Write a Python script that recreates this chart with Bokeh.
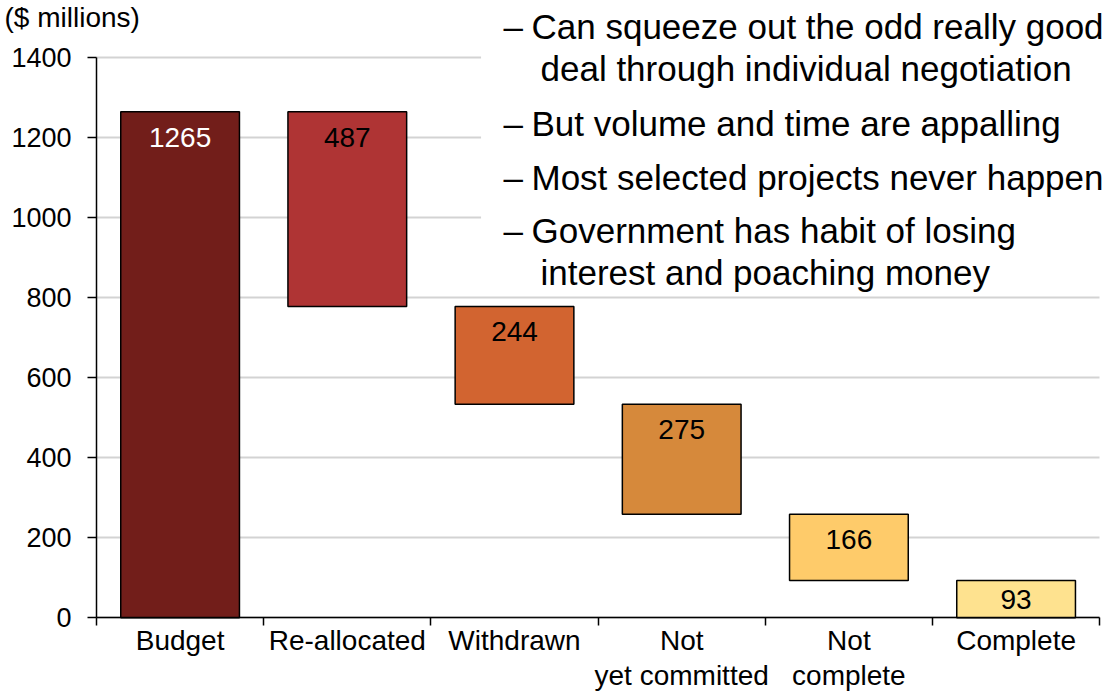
from bokeh.plotting import figure
from bokeh.models import FixedTicker, Label, Range1d, ColumnDataSource
from bokeh.embed import file_html
from bokeh.resources import INLINE
from bokeh.core.properties import value

# ---- data ----
categories = ["Budget", "Re-allocated", "Withdrawn", "Not\nyet committed", "Not\ncomplete", "Complete"]
amounts = [1265, 487, 244, 275, 166, 93]
kinds = ["total", "step", "step", "step", "step", "total"]
colors = ["#721E1A", "#AF3434", "#D26430", "#D6893B", "#FECB6A", "#FEE28F"]
label_colors = ["white", "black", "black", "black", "black", "black"]
y_ticks = [0, 200, 400, 600, 800, 1000, 1200, 1400]
notes = [
    ("Can squeeze out the odd really good", True),
    ("deal through individual negotiation", False),
    ("But volume and time are appalling", True),
    ("Most selected projects never happen", True),
    ("Government has habit of losing", True),
    ("interest and poaching money", False),
]

# waterfall geometry derived from amounts
bottoms, tops = [], []
level = 0
for a, k in zip(amounts, kinds):
    if k == "total":
        bottoms.append(0)
        tops.append(a)
        level = a
    else:
        tops.append(level)
        level = level - a
        bottoms.append(level)

N = len(categories)
YMAX = y_ticks[-1]
xs = [i + 0.5 for i in range(N)]
# value label sits near the top of its bar (or mid-bar for a short bar)
label_y = [max(t - 63, (t + b) / 2) for t, b in zip(tops, bottoms)]
src = ColumnDataSource(dict(x=xs, bottom=bottoms, top=tops, color=colors,
                            label=[str(a) for a in amounts], lcolor=label_colors,
                            ly=label_y))

FONT = "Liberation Sans"
W, H = 1104, 691
# page geometry: axis origin at (96, 617.3) px, 167.2 px per category, 0.4 px per $m
X0, Y0, XS, YS = 96.0, 617.3, 167.2, 0.4

p = figure(width=W, height=H, output_backend="svg", toolbar_location=None, title=None,
           x_range=Range1d(-X0 / XS, (W - X0) / XS),
           y_range=Range1d((Y0 - H) / YS, Y0 / YS),
           min_border=0, min_border_left=0, min_border_right=0,
           min_border_top=0, min_border_bottom=0)
p.outline_line_color = None
p.background_fill_color = "white"
p.border_fill_color = "white"

# grid
p.xgrid.visible = False
p.ygrid.ticker = FixedTicker(ticks=y_ticks)
p.ygrid.grid_line_color = "#D3D3D3"
p.ygrid.grid_line_width = 2
p.ygrid.bounds = (0, YMAX)
p.ygrid.cross_bounds = (0, N)

# white panel behind the notes (hides gridlines there)
p.quad(left=2.3, right=N + 1, bottom=810, top=YMAX + 300,
       fill_color="white", line_color=None)

# bars
p.vbar(x="x", bottom="bottom", top="top", width=0.71, source=src,
       fill_color="color", line_color="black", line_width=1.5)
p.text(x="x", y="ly", text="label", source=src, text_color="lcolor",
       text_align="center", text_baseline="middle",
       text_font=value(FONT), text_font_size="28px")

# y axis
ya = p.yaxis[0]
ya.fixed_location = 0
ya.bounds = (0, YMAX)
ya.ticker = FixedTicker(ticks=y_ticks)
ya.axis_line_color = "black"
ya.axis_line_width = 1.5
ya.major_tick_line_color = "black"
ya.major_tick_line_width = 1.5
ya.major_tick_out = 9
ya.major_tick_in = 0
ya.minor_tick_line_color = None
ya.major_label_text_font = FONT
ya.major_label_text_font_size = "27px"
ya.major_label_text_color = "black"
ya.major_label_standoff = 16

# x axis
xa = p.xaxis[0]
xa.fixed_location = 0
xa.bounds = (0, N)
xa.ticker = FixedTicker(ticks=xs, minor_ticks=list(range(N + 1)))
xa.major_label_overrides = {x: c for x, c in zip(xs, categories)}
xa.axis_line_color = "black"
xa.axis_line_width = 1.5
xa.major_tick_line_color = None
xa.major_tick_out = 0
xa.major_tick_in = 0
xa.minor_tick_line_color = "black"
xa.minor_tick_line_width = 1.5
xa.minor_tick_out = 8
xa.minor_tick_in = 0
xa.major_label_text_font = FONT
xa.major_label_text_font_size = "28px"
xa.major_label_text_line_height = 1.15
xa.major_label_text_color = "black"
xa.major_label_standoff = -1


def screen_label(x_px, y_px, text, size):
    # x_px, y_px: position measured from the page's top-left corner
    return Label(x=x_px, y=H - y_px, x_units="screen", y_units="screen",
                 text=text, text_font=FONT, text_font_size=size,
                 text_baseline="middle", text_align="left", text_color="black")


# unit label
p.add_layout(screen_label(4, 17, "($ millions)", "28px"))

# notes
line_centers = [26, 68, 123, 177, 230, 272]
for (txt, bullet), yc in zip(notes, line_centers):
    if bullet:
        p.add_layout(screen_label(503, yc, "\u2013", "35px"))
        xt = 531
    else:
        xt = 540
    p.add_layout(screen_label(xt, yc, txt, "35px"))

open("out.html", "w").write(file_html(p, INLINE))
